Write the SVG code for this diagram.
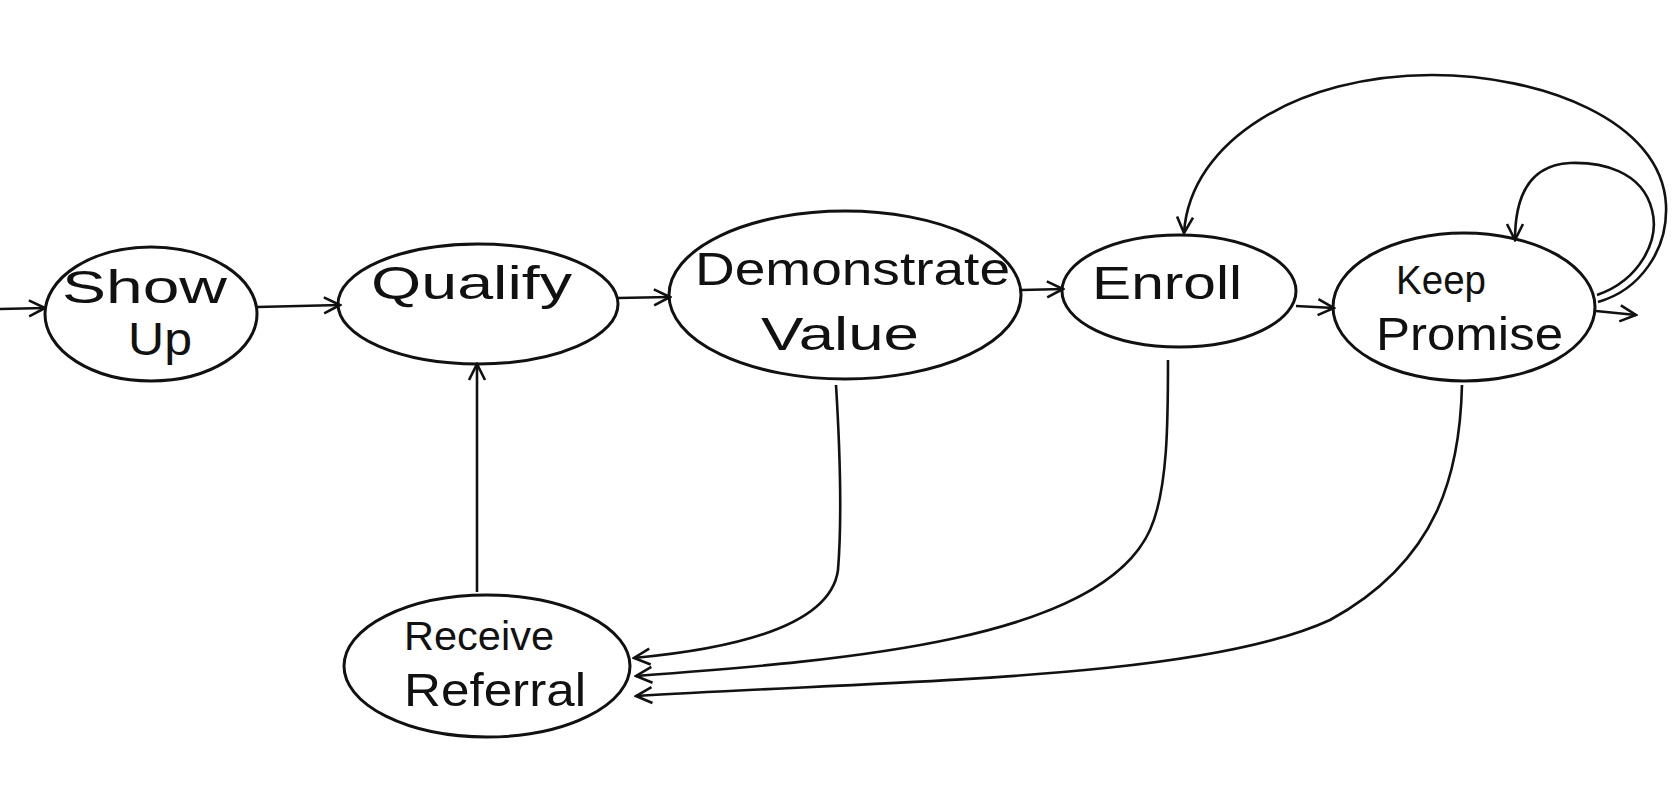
<svg xmlns="http://www.w3.org/2000/svg" width="1676" height="803" viewBox="0 0 1676 803">
<defs>
<style>
.n{fill:none;stroke:#111;stroke-width:3}
.c{fill:none;stroke:#111;stroke-width:2.6;marker-end:url(#ah)}
.t{font-family:"Liberation Sans",Arial,sans-serif;font-size:46px;fill:#111;text-anchor:start}
.s{font-size:40px}
</style>
<marker id="ah" viewBox="0 0 20 20" refX="18" refY="10" markerWidth="20" markerHeight="20" markerUnits="userSpaceOnUse" orient="auto">
<polyline points="2,2 18,10 2,18" fill="none" stroke="#111" stroke-width="2.6"/>
</marker>
</defs>
<rect width="1676" height="803" fill="#fff"/>
<g id="connectors">
<path class="c" d="M0,309 L45,308"/>
<path class="c" d="M257,307 L340,305"/>
<path class="c" d="M618,298 L670,297"/>
<path class="c" d="M1022,290 L1063,289"/>
<path class="c" d="M1296,306 L1334,308"/>
<path class="c" d="M1596,311 L1636,315"/>
<path class="c" d="M1598,302 C1640,290 1668,250 1666,205 C1662,120 1540,75 1432,75 C1300,75 1190,140 1184,233"/>
<path class="c" d="M1597,295 C1640,280 1660,240 1652,210 C1642,170 1600,162 1570,163 C1530,165 1515,195 1515,240"/>
<path class="c" d="M477,592 L477,364"/>
<path class="c" d="M836,385 C840,450 842,520 838,570 C830,630 720,650 634,658"/>
<path class="c" d="M1168,360 C1168,420 1168,490 1150,530 C1100,640 850,660 636,676"/>
<path class="c" d="M1462,385 C1460,470 1440,560 1330,620 C1200,680 900,680 636,696"/>
</g>
<g id="show-up">
<ellipse class="n" cx="151" cy="314" rx="106" ry="67"/>
<text class="t" x="62" y="303" textLength="165" lengthAdjust="spacingAndGlyphs">Show</text>
<text class="t" x="128" y="355" textLength="64" lengthAdjust="spacingAndGlyphs">Up</text>
</g>
<g id="qualify">
<ellipse class="n" cx="478" cy="304" rx="140" ry="60"/>
<text class="t" x="371" y="299" textLength="201" lengthAdjust="spacingAndGlyphs">Qualify</text>
</g>
<g id="demonstrate-value">
<ellipse class="n" cx="845" cy="295" rx="176" ry="84"/>
<text class="t" x="695" y="285" textLength="315" lengthAdjust="spacingAndGlyphs">Demonstrate</text>
<text class="t" x="761" y="350" textLength="158" lengthAdjust="spacingAndGlyphs">Value</text>
</g>
<g id="enroll">
<ellipse class="n" cx="1179" cy="291" rx="117" ry="56"/>
<text class="t" x="1092" y="299" textLength="150" lengthAdjust="spacingAndGlyphs">Enroll</text>
</g>
<g id="keep-promise">
<ellipse class="n" cx="1464" cy="307" rx="131" ry="74"/>
<text class="t s" x="1396" y="294" textLength="90" lengthAdjust="spacingAndGlyphs">Keep</text>
<text class="t" x="1376" y="350" textLength="187" lengthAdjust="spacingAndGlyphs">Promise</text>
</g>
<g id="receive-referral">
<ellipse class="n" cx="487" cy="666" rx="143" ry="71"/>
<text class="t s" x="404" y="650" textLength="150" lengthAdjust="spacingAndGlyphs">Receive</text>
<text class="t" x="404" y="706" textLength="182" lengthAdjust="spacingAndGlyphs">Referral</text>
</g>
</svg>
